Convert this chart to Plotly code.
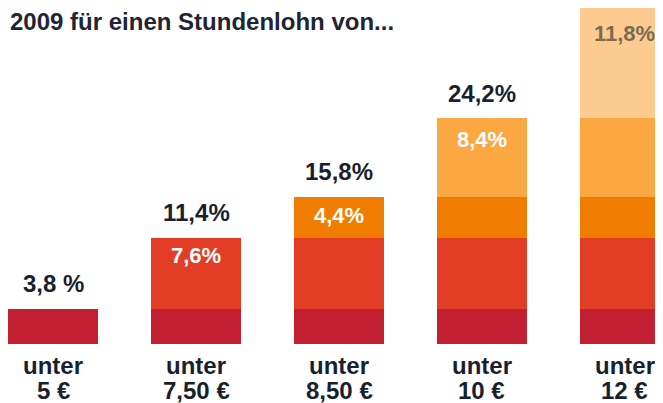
import plotly.graph_objects as go

cat_line1 = ["unter", "unter", "unter", "unter", "unter"]
cat_line2 = ["5 €", "7,50 €", "8,50 €", "10 €", "12 €"]
seg_below5 = [3.8, 3.8, 3.8, 3.8, 3.8]
seg_5_750 = [None, 7.6, 7.6, 7.6, 7.6]
seg_750_850 = [None, None, 4.4, 4.4, 4.4]
seg_850_10 = [None, None, None, 8.4, 8.4]
seg_10_12 = [None, None, None, None, 11.8]
totals = [3.8, 11.4, 15.8, 24.2, 36.0]
total_labels = ["3,8 %", "11,4%", "15,8%", "24,2%", None]
inner_labels = [None, "7,6%", "4,4%", "8,4%", "11,8%"]
title_text = "2009 für einen Stundenlohn von..."

series = [seg_below5, seg_5_750, seg_750_850, seg_850_10, seg_10_12]
colors = ["#C21F33", "#E33D25", "#F07D00", "#FBA843", "#FDCA8F"]

FONT = "Liberation Sans, Arial, sans-serif"
DARK = "#1a1f2e"
x = list(range(len(cat_line1)))

fig = go.Figure()
for s, c in zip(series, colors):
    fig.add_trace(go.Bar(x=x, y=s, marker=dict(color=c, line=dict(width=0)),
                         width=0.63, hoverinfo="skip", showlegend=False))

for i, (t, lab) in enumerate(zip(totals, total_labels)):
    if lab:
        fig.add_annotation(x=i, y=t, text=f"<b>{lab}</b>", showarrow=False,
                           yanchor="middle", yshift=25,
                           font=dict(family=FONT, size=24, color=DARK))

inner_colors = ["#ffffff", "#ffffff", "#ffffff", "#ffffff", "#7a6a52"]
inner_shift = [0, -18, -19, -21, -25]
for i, (t, lab) in enumerate(zip(totals, inner_labels)):
    if lab:
        fig.add_annotation(x=i, y=t, text=f"<b>{lab}</b>", showarrow=False,
                           yanchor="middle", yshift=inner_shift[i],
                           font=dict(family=FONT, size=22, color=inner_colors[i]))

for i, (l1, l2) in enumerate(zip(cat_line1, cat_line2)):
    fig.add_annotation(x=i, y=0, text=f"<b>{l1}</b>", showarrow=False,
                       yanchor="middle", yshift=-21,
                       font=dict(family=FONT, size=24, color=DARK))
    fig.add_annotation(x=i, y=0, text=f"<b>{l2}</b>", showarrow=False,
                       yanchor="middle", yshift=-46,
                       font=dict(family=FONT, size=24, color=DARK))

fig.add_annotation(xref="paper", yref="paper", x=0, xshift=0, y=1, yshift=-13,
                   text=f"<b>{title_text}</b>", showarrow=False,
                   xanchor="left", yanchor="middle",
                   font=dict(family=FONT, size=24, color="#1f2533"))

fig.update_layout(
    barmode="stack",
    width=655, height=395,
    margin=dict(l=0, r=0, t=0, b=59, autoexpand=False),
    paper_bgcolor="white", plot_bgcolor="white",
    bargap=0,
    xaxis=dict(range=[-0.315, 4.266], visible=False, showgrid=False, zeroline=False),
    yaxis=dict(range=[0, 36.0], visible=False, showgrid=False, zeroline=False),
)

fig.write_html("out.html")
